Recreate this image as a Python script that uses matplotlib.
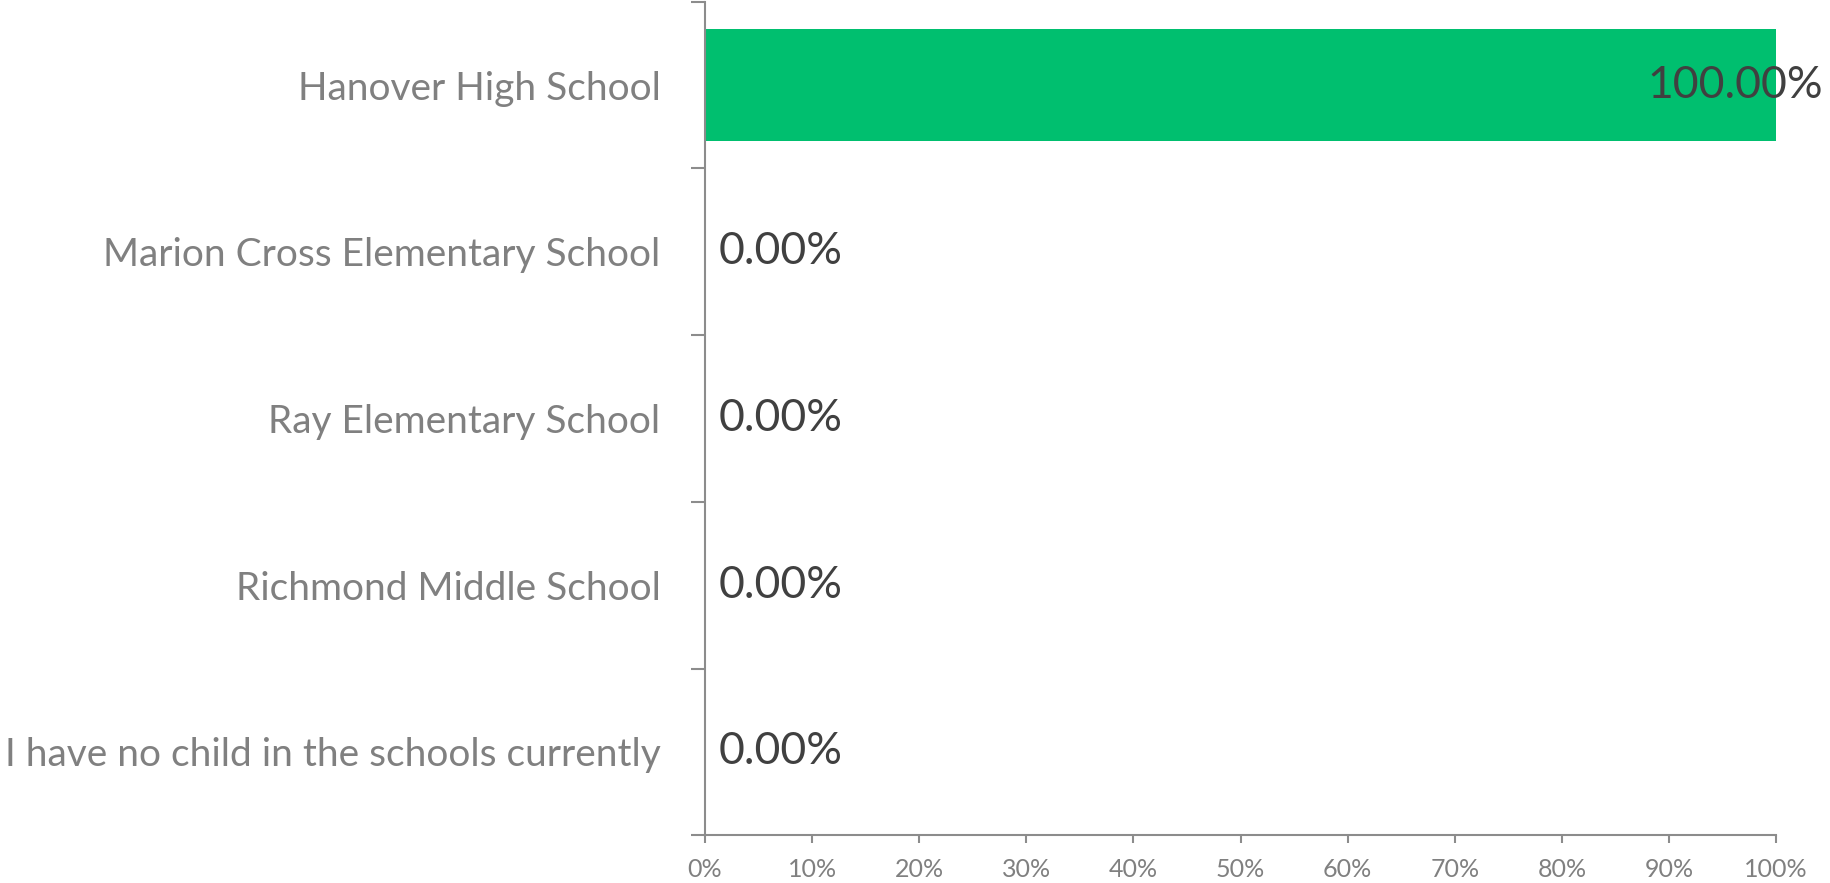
import numpy as np
import matplotlib
matplotlib.use("Agg")
import matplotlib.pyplot as plt
from matplotlib.ticker import FixedLocator, FuncFormatter

plt.rcParams['font.family'] = ['Lato', 'DejaVu Sans']

# datos
escuelas = ["Hanover High School",
            "Marion Cross Elementary School",
            "Ray Elementary School",
            "Richmond Middle School",
            "I have no child in the schools currently"]
porcentajes = [100.0, 0.0, 0.0, 0.0, 0.0]
ticks_x = [0, 10, 20, 30, 40, 50, 60, 70, 80, 90, 100]

verde = '#00BF6F'
gris_eje = '#8C8C8C'
gris_txt = '#808080'
gris_osc = '#404040'

fig = plt.figure(figsize=(18.31, 8.83), dpi=100)
ax = fig.add_axes([0.385, 0.054, 0.585, 0.944])

n = len(escuelas)
y = np.arange(n)
ax.barh(y, porcentajes, height=0.67, color=verde)
ax.set_ylim(n - 0.5, -0.5)
ax.set_xlim(0, 100)

# etiquetas de valores
for yi, v in zip(y, porcentajes):
    txt = '%.2f%%' % v
    if v > 0:
        ax.annotate(txt, (v, yi), xytext=(34, 0), textcoords='offset points',
                    ha='right', va='center', fontsize=32, color=gris_osc)
    else:
        ax.annotate(txt, (v, yi), xytext=(10, 0), textcoords='offset points',
                    ha='left', va='center', fontsize=32, color=gris_osc)

# ejes
for s in ['top', 'right']:
    ax.spines[s].set_visible(False)
for s in ['left', 'bottom']:
    ax.spines[s].set_color(gris_eje)
    ax.spines[s].set_linewidth(1.5)

ax.set_yticks(y)
ax.set_yticklabels(escuelas, fontsize=28, color=gris_txt)
ax.tick_params(axis='y', which='major', length=0, pad=32)
ax.yaxis.set_minor_locator(FixedLocator(np.arange(n + 1) - 0.5))
ax.tick_params(axis='y', which='minor', length=10, width=1.5, color=gris_eje)

ax.xaxis.set_major_locator(FixedLocator(ticks_x))
ax.xaxis.set_major_formatter(FuncFormatter(lambda x, p: '%d%%' % x))
ax.tick_params(axis='x', length=6, width=1.5, color=gris_eje,
               labelsize=18, labelcolor=gris_txt, pad=10)

fig.savefig('out.png', dpi=100)
